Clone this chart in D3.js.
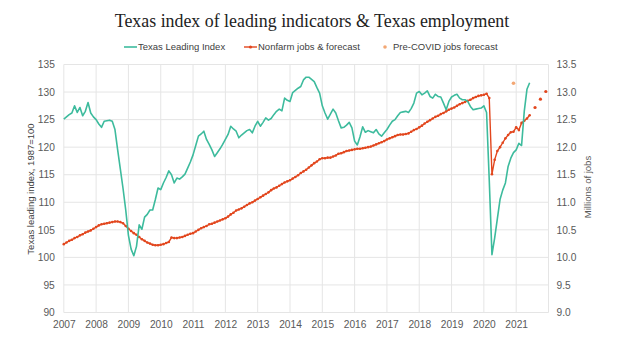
<!DOCTYPE html>
<html><head><meta charset="utf-8">
<script src="https://cdn.jsdelivr.net/npm/d3@7"></script>
<style>body{margin:0;background:#fff}svg{display:block}</style>
</head><body>
<svg id="c" width="624" height="342"></svg>
<script>
// ---- data ----
const startYear = 2007; // monthly series begin Jan 2007
const xTickYears = [2007,2008,2009,2010,2011,2012,2013,2014,2015,2016,2017,2018,2019,2020,2021];
const leftTicks = [90,95,100,105,110,115,120,125,130,135];
const rightTicks = [9.0,9.5,10.0,10.5,11.0,11.5,12.0,12.5,13.0,13.5];
// Texas Leading Index, monthly Jan 2007 - Jun 2021
const tli = [
 125.1,125.5,125.9,126.2,127.5,126.3,127.2,125.7,126.5,128.1,126.2,125.5,
 125.0,124.2,123.6,124.7,124.8,124.9,124.7,123.2,119.5,116.0,112.5,108.6,
 104.0,101.5,100.3,102.0,105.9,105.1,107.3,107.8,108.6,108.6,110.5,112.6,
 112.3,113.5,114.5,115.7,115.0,113.5,114.4,114.2,114.6,115.1,116.2,117.3,
 118.6,120.3,122.0,122.4,122.9,121.4,120.5,119.5,118.3,119.0,119.7,120.5,
 121.4,122.3,123.8,123.3,122.9,121.7,122.2,122.6,123.0,123.2,122.6,123.8,
 124.7,123.8,124.5,125.3,124.9,125.2,125.9,126.5,126.9,126.6,128.9,128.5,
 128.3,129.9,130.3,130.7,131.0,132.2,132.7,132.7,132.3,131.9,130.8,129.8,
 127.5,126.2,125.1,126.0,126.9,126.2,124.8,123.5,123.6,124.0,124.5,123.5,
 121.1,120.4,121.9,123.7,122.7,123.0,122.8,122.6,123.2,122.4,122.0,122.6,
 123.2,124.0,124.7,125.0,125.7,126.3,126.4,126.5,126.3,127.0,128.0,129.8,
 130.1,129.5,129.8,130.2,129.2,128.9,129.6,129.2,129.1,128.0,126.8,128.3,
 129.1,129.4,129.6,128.9,128.6,128.6,128.3,127.4,126.8,126.9,127.0,127.1,
 127.5,126.3,114.0,100.5,103.5,107.0,110.5,112.2,113.5,116.5,118.0,119.0,
 119.5,120.7,120.3,126.5,130.5,131.7
];
// Nonfarm jobs (millions), monthly Jan 2007 - Jun 2021
const jobs = [
 10.24,10.27,10.30,10.32,10.35,10.37,10.40,10.42,10.45,10.47,10.49,10.52,
 10.55,10.58,10.60,10.61,10.62,10.63,10.64,10.65,10.65,10.64,10.62,10.57,
 10.52,10.48,10.44,10.41,10.37,10.33,10.30,10.27,10.25,10.23,10.22,10.22,
 10.23,10.24,10.26,10.28,10.36,10.35,10.35,10.36,10.37,10.39,10.41,10.43,
 10.44,10.47,10.50,10.53,10.55,10.57,10.60,10.61,10.63,10.65,10.67,10.69,
 10.71,10.74,10.78,10.81,10.85,10.87,10.89,10.92,10.95,10.98,11.00,11.03,
 11.06,11.09,11.12,11.15,11.18,11.22,11.25,11.27,11.30,11.33,11.36,11.38,
 11.40,11.43,11.46,11.49,11.53,11.56,11.59,11.63,11.67,11.71,11.74,11.78,
 11.80,11.80,11.81,11.81,11.83,11.85,11.88,11.89,11.91,11.93,11.94,11.95,
 11.96,11.97,11.97,11.98,11.99,12.00,12.01,12.03,12.05,12.07,12.09,12.11,
 12.14,12.16,12.18,12.20,12.22,12.23,12.23,12.24,12.25,12.28,12.31,12.33,
 12.36,12.39,12.43,12.46,12.49,12.52,12.55,12.57,12.60,12.62,12.65,12.68,
 12.70,12.72,12.75,12.78,12.80,12.82,12.84,12.86,12.89,12.91,12.93,12.94,
 12.95,12.97,12.89,11.51,11.77,11.93,12.00,12.08,12.16,12.22,12.27,12.28,
 12.36,12.31,12.44,12.48,12.52,12.58
];
// forecast points: [year, monthIndex(0-11)]
const forecastMonths = [[2021,7],[2021,9],[2021,11]];
const forecastJobs = [12.72,12.87,13.01];
const preCovidMonths = [[2020,11]];
const preCovidJobs = [13.16];

const titleText = "Texas index of leading indicators & Texas employment";
const legendLabels = ["Texas Leading Index","Nonfarm jobs & forecast","Pre-COVID jobs forecast"];

// ---- drawing ----
const C = {teal:"#3dbb9d", red:"#e2461d", pre:"#f3a774", grid:"#e5e5e5", text:"#595959"};
const svg = d3.select("#c");
svg.append("rect").attr("width",624).attr("height",342).attr("fill","#fff");

const x = d3.scaleLinear().domain([2007,2022]).range([63.8,548.5]);
const yL = d3.scaleLinear().domain([90,135]).range([312.5,64.5]);
const yR = d3.scaleLinear().domain([9,13.5]).range([312.5,64.5]);
const t = i => startYear + i/12;
const tm = ([yr,m]) => yr + m/12;

// grid
const g = svg.append("g");
g.selectAll("line.h").data(leftTicks).join("line")
  .attr("x1",x(2007)).attr("x2",x(2022)).attr("y1",d=>yL(d)).attr("y2",d=>yL(d))
  .attr("stroke",C.grid).attr("stroke-width",1);
g.selectAll("line.v").data([...xTickYears,2022]).join("line")
  .attr("y1",yL(90)).attr("y2",yL(135)).attr("x1",d=>x(d)).attr("x2",d=>x(d))
  .attr("stroke",C.grid).attr("stroke-width",1);

// axes
const fontAx = "'Liberation Sans', Arial, sans-serif";
const axL = svg.append("g").attr("transform",`translate(${x(2007)},0)`)
  .call(d3.axisLeft(yL).tickValues(leftTicks).tickSize(0).tickPadding(9));
const axR = svg.append("g").attr("transform",`translate(${x(2022)},0)`)
  .call(d3.axisRight(yR).tickValues(rightTicks).tickSize(0).tickPadding(8).tickFormat(d3.format(".1f")));
const axB = svg.append("g").attr("transform",`translate(0,${yL(90)})`)
  .call(d3.axisBottom(x).tickValues(xTickYears).tickSize(0).tickPadding(8).tickFormat(d3.format("d")));
[axL,axR,axB].forEach(a=>{
  a.select(".domain").remove();
  a.selectAll("text").attr("fill",C.text).style("font-family",fontAx).style("font-size","10.2px");
});

// axis titles
svg.append("text").attr("transform",`translate(34,189) rotate(-90)`).attr("text-anchor","middle")
  .attr("fill","#404040").style("font-family",fontAx).style("font-size","9.5px").text("Texas leading index, 1987=100");
svg.append("text").attr("transform",`translate(591,187) rotate(-90)`).attr("text-anchor","middle")
  .attr("fill",C.text).style("font-family",fontAx).style("font-size","9.5px").text("Millions of jobs");

// series
const lineL = d3.line().x((d,i)=>x(t(i))).y(d=>yL(d));
const lineR = d3.line().x((d,i)=>x(t(i))).y(d=>yR(d));
svg.append("path").attr("d",lineR(jobs)).attr("fill","none").attr("stroke",C.red).attr("stroke-width",1.4);
svg.append("g").selectAll("circle").data(jobs).join("circle")
  .attr("cx",(d,i)=>x(t(i))).attr("cy",d=>yR(d)).attr("r",1.3).attr("fill",C.red);
svg.append("path").attr("d",lineL(tli)).attr("fill","none").attr("stroke",C.teal).attr("stroke-width",1.6)
  .attr("stroke-linejoin","round");
svg.append("g").selectAll("circle").data(forecastJobs).join("circle")
  .attr("cx",(d,i)=>x(tm(forecastMonths[i]))).attr("cy",d=>yR(d)).attr("r",1.6).attr("fill",C.red);
svg.append("g").selectAll("circle").data(preCovidJobs).join("circle")
  .attr("cx",(d,i)=>x(tm(preCovidMonths[i]))).attr("cy",d=>yR(d)).attr("r",1.8).attr("fill",C.pre);

// title
const title = svg.append("text").attr("x",312).attr("y",26.5).attr("text-anchor","middle")
  .attr("fill","#222").style("font-family","'Liberation Serif','Times New Roman',serif").style("font-size","20px")
  .text(titleText);
const tw = title.node().getComputedTextLength();
title.style("font-size",(20*395/tw).toFixed(2)+"px");

// legend
const lg = svg.append("g").style("font-family",fontAx).style("font-size","9.5px");
const ly = 47;
lg.append("line").attr("x1",124).attr("x2",137).attr("y1",ly).attr("y2",ly).attr("stroke",C.teal).attr("stroke-width",1.6);
lg.append("text").attr("x",138).attr("y",ly+3.4).attr("fill","#404040").text(legendLabels[0]);
lg.append("line").attr("x1",244).attr("x2",257).attr("y1",ly).attr("y2",ly).attr("stroke",C.red).attr("stroke-width",1.4);
lg.append("circle").attr("cx",250.5).attr("cy",ly).attr("r",1.6).attr("fill",C.red);
lg.append("text").attr("x",258).attr("y",ly+3.4).attr("fill","#404040").text(legendLabels[1]);
lg.append("circle").attr("cx",385).attr("cy",ly).attr("r",1.8).attr("fill",C.pre);
lg.append("text").attr("x",393).attr("y",ly+3.4).attr("fill","#404040").text(legendLabels[2]);
</script>
</body></html>
